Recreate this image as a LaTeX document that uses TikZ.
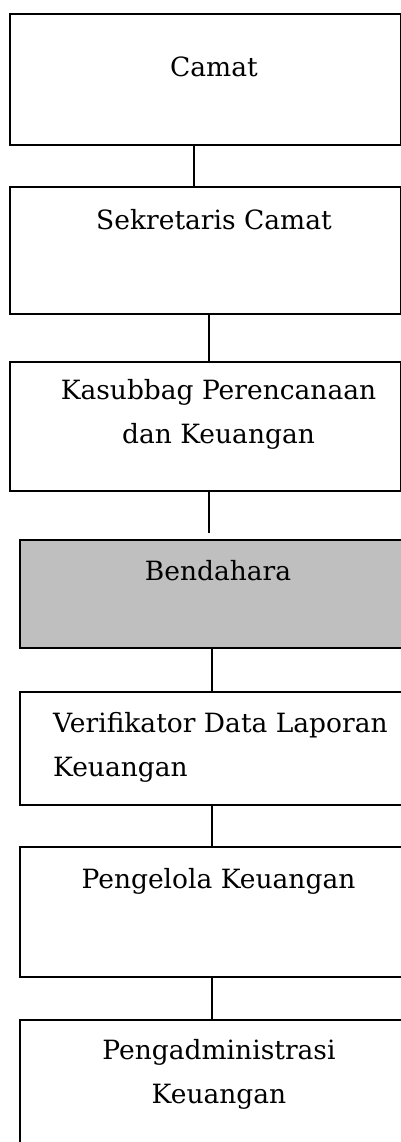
\documentclass[tikz,border=0pt]{standalone}
\usepackage{fontspec}
\setmainfont{DejaVu Serif}
\definecolor{bendgray}{RGB}{191,191,191}
\begin{document}
\begin{tikzpicture}[x=1pt,y=-1pt]
\tikzstyle{every node}+=[inner sep=0pt]
\tikzstyle{box}=[draw=black,line width=2.4pt,anchor=north west]
\tikzstyle{txt}=[font=\fontsize{26.5}{43.5}\selectfont,align=center,anchor=base]
\tikzstyle{link}=[draw=black,line width=2.6pt]
\useasboundingbox (0,0) rectangle (401,1142);
\clip (0,0) rectangle (401,1142);
\node [box,minimum width=391pt,minimum height=131pt] (camat) at (9,13) {};
\node [box,minimum width=391pt,minimum height=127pt] (sekcam) at (9,186) {};
\node [box,minimum width=391pt,minimum height=129pt] (kasubbag) at (9,361) {};
\node [box,fill=bendgray,minimum width=400pt,minimum height=108pt] (bendahara) at (19,539) {};
\node [box,minimum width=400pt,minimum height=113pt] (verifikator) at (19,691) {};
\node [box,minimum width=400pt,minimum height=130pt] (pengelola) at (19,846) {};
\node [box,minimum width=400pt,minimum height=160pt] (pengadm) at (19,1019) {};
\node [txt] (camatText) at (214,77) {Camat};
\node [txt] (sekcamText) at (214,229) {Sekretaris Camat};
\node [txt] (kasubbagText) at (218.5,443) {Kasubbag Perencanaan\\dan Keuangan};
\node [txt] (bendaharaText) at (218,580) {Bendahara};
\node [txt,align=left,anchor=base west] (verifikatorText) at (53,776) {Verifikator Data Laporan\\Keuangan};
\node [txt] (pengelolaText) at (218.5,888) {Pengelola Keuangan};
\node [txt] (pengadmText) at (219,1103) {Pengadministrasi\\Keuangan};
\draw [link] (camat.south -| 194,0) -- (sekcam.north -| 194,0);
\draw [link] (sekcam.south -| 209,0) -- (kasubbag.north -| 209,0);
\draw [link,shorten >=6pt] (kasubbag.south -| 209,0) -- (bendahara.north -| 209,0);
\draw [link] (bendahara.south -| 212,0) -- (verifikator.north -| 212,0);
\draw [link] (verifikator.south -| 212,0) -- (pengelola.north -| 212,0);
\draw [link] (pengelola.south -| 212,0) -- (pengadm.north -| 212,0);
\end{tikzpicture}
\end{document}
